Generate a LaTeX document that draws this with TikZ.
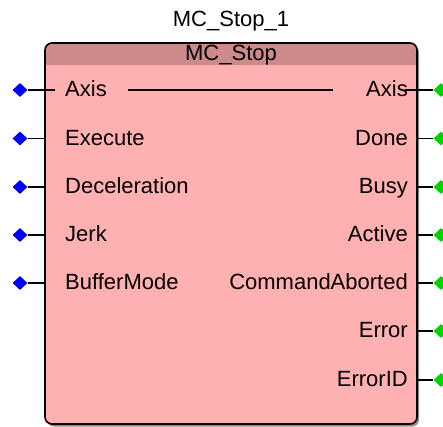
\documentclass[tikz,border=0pt]{standalone}
\usepackage{fontspec}
\setmainfont{Liberation Sans}
\usepackage{xcolor}
\usetikzlibrary{positioning,shapes.geometric}
\definecolor{fbbody}{RGB}{255,176,176}
\definecolor{fbhead}{RGB}{204,138,138}
\definecolor{pinin}{RGB}{0,0,255}
\definecolor{pinout}{RGB}{0,210,0}

\begin{document}
\begin{tikzpicture}[x=1pt, y=-1pt,
    every node/.style={font=\fontsize{22}{26}\selectfont},
    fb/.style={rectangle, rounded corners=7pt, minimum width=372pt, minimum height=381pt, inner sep=0pt},
    inlabel/.style={anchor=west, inner sep=0pt, text height=15pt, text depth=0pt},
    outlabel/.style={anchor=east, inner sep=0pt, text height=15pt, text depth=0pt},
    inpin/.style={diamond, fill=pinin, inner sep=0pt, minimum width=15pt, minimum height=14pt},
    outpin/.style={diamond, fill=pinout, inner sep=0pt, minimum width=15pt, minimum height=14pt},
    wire/.style={line width=1.3pt}]
\useasboundingbox (0,0) rectangle (443,426);

% block with shadow and header band
\node[fb, fill=black!45] at (233,236) {};
\node[fb, fill=fbbody] (fb) at (231,233.5) {};
\begin{scope}
\clip[rounded corners=7pt] (fb.south west) rectangle (fb.north east);
\fill[fbhead] (fb.north west) rectangle ([yshift=-22pt]fb.north east);
\end{scope}
\node[fb, draw, line width=1.6pt] at (fb) {};

\node[inner sep=0pt] (inst) at (231,21) {MC\_Stop\_1};
\node[inner sep=0pt, text height=15pt, text depth=0pt] (type) at (231,53) {MC\_Stop};

% inputs
\node[inlabel] (lAxisIn) at (65,89) {Axis};
\node[inlabel] (lExec) at (65,137.5) {Execute};
\node[inlabel] (lDecel) at (65,186) {Deceleration};
\node[inlabel] (lJerk) at (65,234) {Jerk};
\node[inlabel] (lBuf) at (65,282) {BufferMode};

\node[inpin] (pAxisIn) at (20,90) {};
\node[inpin] (pExec) at (20,138.5) {};
\node[inpin] (pDecel) at (20,187) {};
\node[inpin] (pJerk) at (20,235) {};
\node[inpin] (pBuf) at (20,283) {};

\draw[wire] (pAxisIn) -- ([xshift=-10pt]lAxisIn.west |- pAxisIn);
\draw[wire] (pExec) -- (pExec -| fb.west);
\draw[wire] (pDecel) -- (pDecel -| fb.west);
\draw[wire] (pJerk) -- (pJerk -| fb.west);
\draw[wire] (pBuf) -- (pBuf -| fb.west);

% outputs
\node[outlabel] (lAxisOut) at (408,89) {Axis};
\node[outlabel] (lDone) at (408,137.5) {Done};
\node[outlabel] (lBusy) at (408,186) {Busy};
\node[outlabel] (lActive) at (408,234) {Active};
\node[outlabel] (lAbort) at (408,282) {CommandAborted};
\node[outlabel] (lErr) at (408,330) {Error};
\node[outlabel] (lErrID) at (408,379) {ErrorID};

\node[outpin] (pAxisOut) at (441,90) {};
\node[outpin] (pDone) at (441,138.5) {};
\node[outpin] (pBusy) at (441,187) {};
\node[outpin] (pActive) at (441,235) {};
\node[outpin] (pAbort) at (441,283) {};
\node[outpin] (pErr) at (441,331) {};
\node[outpin] (pErrID) at (441,380) {};

\draw[wire] ([xshift=-3pt]lAxisOut.east |- pAxisOut) -- (pAxisOut);
\draw[wire] (pDone -| fb.east) -- (pDone);
\draw[wire] (pBusy -| fb.east) -- (pBusy);
\draw[wire] (pActive -| fb.east) -- (pActive);
\draw[wire] (pAbort -| fb.east) -- (pAbort);
\draw[wire] (pErr -| fb.east) -- (pErr);
\draw[wire] (pErrID -| fb.east) -- (pErrID);

% in-out pass through
\draw[wire] ([xshift=83pt]pAxisIn -| fb.west) coordinate (axA) -- ([xshift=-84pt]pAxisOut -| fb.east) coordinate (axB);
\end{tikzpicture}
\end{document}
